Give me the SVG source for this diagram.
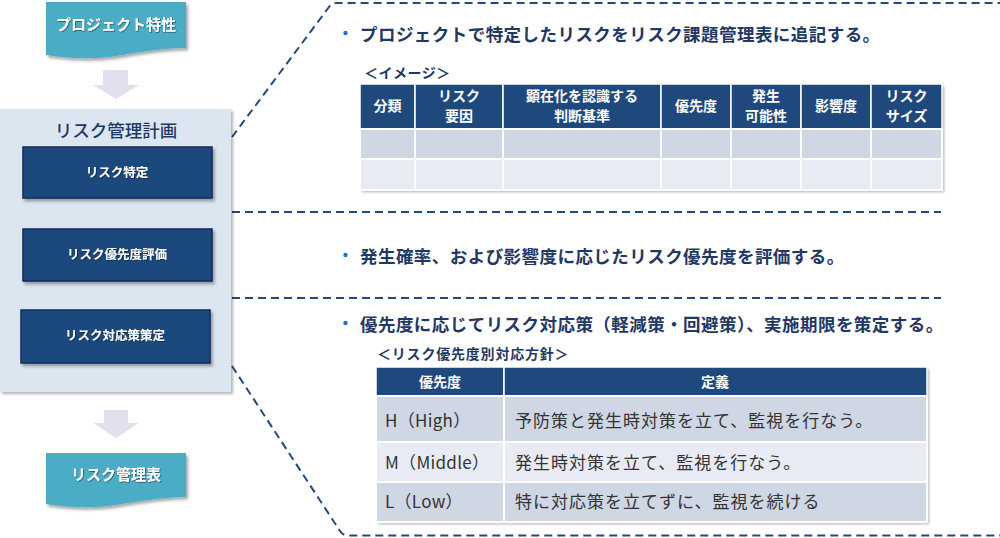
<svg xmlns="http://www.w3.org/2000/svg" width="1000" height="538" viewBox="0 0 1000 538">
<defs>
<filter id="sh" x="-10%" y="-10%" width="125%" height="130%"><feDropShadow dx="2" dy="2.5" stdDeviation="1.5" flood-color="#000" flood-opacity="0.35"/></filter>
<filter id="sh2" x="-5%" y="-5%" width="110%" height="115%"><feDropShadow dx="2" dy="2" stdDeviation="1.5" flood-color="#000" flood-opacity="0.3"/></filter>
<filter id="ts" x="-5%" y="-20%" width="110%" height="140%"><feDropShadow dx="0.8" dy="0.8" stdDeviation="0.5" flood-color="#000" flood-opacity="0.5"/></filter>
<style>
text{font-family:"Noto Sans CJK JP","Noto Sans",sans-serif;dominant-baseline:central}
.ban{fill:#4BACC6}
.bant{fill:#fff;font-size:15px;font-weight:bold;text-anchor:middle}
.arr{fill:#E4DFEC}
.box{fill:#1F497D;stroke:#10285A;stroke-width:1.5}
.boxt{fill:#fff;font-size:12.5px;font-weight:bold;text-anchor:middle}
.dash{fill:none;stroke:#24497C;stroke-width:2;stroke-dasharray:8 5}
.bul{fill:#1E6FD9}
.bt{fill:#1F3864;font-size:17.5px;font-weight:bold;letter-spacing:0.45px}
.sub{fill:#1F3864;font-size:14px;font-weight:bold}
.hd{fill:#1F497D;stroke:#fff;stroke-width:1.5}
.r1{fill:#CFD6E4;stroke:#fff;stroke-width:2}
.r2{fill:#E8EBF3;stroke:#fff;stroke-width:2}
.ht{fill:#fff;font-size:14px;font-weight:bold;text-anchor:middle}
.ct{fill:#333;font-size:17px;letter-spacing:1px}
.pt{fill:#333;font-size:17px;letter-spacing:0.3px}
</style>
</defs>

<g id="connectors">
<path class="dash" d="M232,137 L329,7 Q332,3 337,3 L1000,3"/>
<path class="dash" d="M232,212 L941,212"/>
<path class="dash" d="M232,298 L941,298"/>
<path class="dash" d="M232,366 L340,531 Q343,535.5 348,535.5 L1000,535.5"/>
</g>

<g id="project-traits">
<path class="ban" filter="url(#sh)" d="M46,2 H186 V48 C163,48 140,52 116,56 C90,60 65,58 46,55 Z"/>
<text class="bant" x="116" y="23" filter="url(#ts)">プロジェクト特性</text>
</g>

<g id="arrow1"><path class="arr" d="M103,70 H128 V85 H139 L116,99 L93,85 H103 Z"/></g>

<g id="risk-plan">
<rect x="0" y="109" width="231" height="283" fill="#DCE6F1" filter="url(#sh2)"/>
<text x="116" y="129" fill="#1F3864" font-size="17.5" font-weight="500" text-anchor="middle">リスク管理計画</text>
</g>

<g id="risk-identify">
<rect class="box" x="23" y="147" width="189" height="51" filter="url(#sh)"/>
<text class="boxt" x="117" y="171" filter="url(#ts)">リスク特定</text>
</g>
<g id="risk-priority">
<rect class="box" x="23" y="229" width="189" height="52" filter="url(#sh)"/>
<text class="boxt" x="117" y="253" filter="url(#ts)">リスク優先度評価</text>
</g>
<g id="risk-response">
<rect class="box" x="21" y="310" width="189" height="53" filter="url(#sh)"/>
<text class="boxt" x="115" y="334" filter="url(#ts)">リスク対応策策定</text>
</g>

<g id="arrow2"><path class="arr" d="M104,410 H128 V423 H139 L116,438 L93,423 H104 Z"/></g>

<g id="risk-table-doc">
<path class="ban" filter="url(#sh)" d="M46,453 H186 V497 C163,497 140,501 116,505 C90,509 65,507 46,504 Z"/>
<text class="bant" x="116" y="473" filter="url(#ts)">リスク管理表</text>
</g>

<g id="section1">
<circle class="bul" cx="345.5" cy="33" r="2.2"/>
<text class="bt" x="360" y="33">プロジェクトで特定したリスクをリスク課題管理表に追記する。</text>
<text class="sub" x="364" y="72" letter-spacing="0.5">＜イメージ＞</text>
<g id="table1">
<rect x="360" y="84" width="582" height="106" fill="#fff" filter="url(#sh2)"/>
<rect class="hd" x="360" y="84" width="55" height="45"/>
<rect class="hd" x="415" y="84" width="88" height="45"/>
<rect class="hd" x="503" y="84" width="158" height="45"/>
<rect class="hd" x="661" y="84" width="70" height="45"/>
<rect class="hd" x="731" y="84" width="70" height="45"/>
<rect class="hd" x="801" y="84" width="70" height="45"/>
<rect class="hd" x="871" y="84" width="71" height="45"/>
<rect class="r1" x="360" y="129" width="55" height="30"/>
<rect class="r1" x="415" y="129" width="88" height="30"/>
<rect class="r1" x="503" y="129" width="158" height="30"/>
<rect class="r1" x="661" y="129" width="70" height="30"/>
<rect class="r1" x="731" y="129" width="70" height="30"/>
<rect class="r1" x="801" y="129" width="70" height="30"/>
<rect class="r1" x="871" y="129" width="71" height="30"/>
<rect class="r2" x="360" y="159" width="55" height="31"/>
<rect class="r2" x="415" y="159" width="88" height="31"/>
<rect class="r2" x="503" y="159" width="158" height="31"/>
<rect class="r2" x="661" y="159" width="70" height="31"/>
<rect class="r2" x="731" y="159" width="70" height="31"/>
<rect class="r2" x="801" y="159" width="70" height="31"/>
<rect class="r2" x="871" y="159" width="71" height="31"/>
<text class="ht" x="387.5" y="105">分類</text>
<text class="ht" x="459" y="95">リスク</text>
<text class="ht" x="459" y="114.5">要因</text>
<text class="ht" x="582" y="95">顕在化を認識する</text>
<text class="ht" x="582" y="114.5">判断基準</text>
<text class="ht" x="696" y="105">優先度</text>
<text class="ht" x="766" y="95">発生</text>
<text class="ht" x="766" y="114.5">可能性</text>
<text class="ht" x="836" y="105">影響度</text>
<text class="ht" x="906.5" y="95">リスク</text>
<text class="ht" x="906.5" y="114.5">サイズ</text>
</g>
</g>

<g id="section2">
<circle class="bul" cx="345.5" cy="255" r="2.2"/>
<text class="bt" x="360" y="255">発生確率、および影響度に応じたリスク優先度を評価する。</text>
</g>

<g id="section3">
<circle class="bul" cx="345.5" cy="323" r="2.2"/>
<text class="bt" x="360" y="323">優先度に応じてリスク対応策（軽減策・回避策）、実施期限を策定する。</text>
<text class="sub" x="377" y="353" letter-spacing="0.8">＜リスク優先度別対応方針＞</text>
<g id="table2">
<rect x="376" y="367" width="551" height="155" fill="#fff" filter="url(#sh2)"/>
<rect class="hd" x="376" y="367" width="128" height="29"/>
<rect class="hd" x="504" y="367" width="423" height="29"/>
<rect class="r1" x="376" y="396" width="128" height="46"/>
<rect class="r1" x="504" y="396" width="423" height="46"/>
<rect class="r2" x="376" y="442" width="128" height="40"/>
<rect class="r2" x="504" y="442" width="423" height="40"/>
<rect class="r1" x="376" y="482" width="128" height="40"/>
<rect class="r1" x="504" y="482" width="423" height="40"/>
<text class="ht" x="440" y="381" font-size="15">優先度</text>
<text class="ht" x="715" y="381" font-size="15">定義</text>
<text class="pt" x="385" y="419">H（High）</text>
<text class="ct" x="515" y="419">予防策と発生時対策を立て、監視を行なう。</text>
<text class="pt" x="385" y="461">M（Middle）</text>
<text class="ct" x="515" y="461">発生時対策を立て、監視を行なう。</text>
<text class="pt" x="385" y="500">L（Low）</text>
<text class="ct" x="515" y="500">特に対応策を立てずに、監視を続ける</text>
</g>
</g>
</svg>
